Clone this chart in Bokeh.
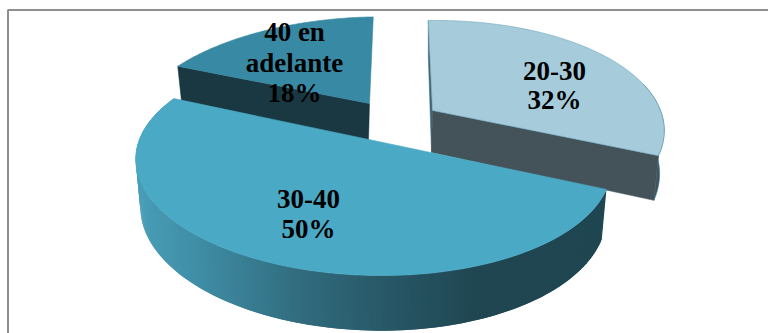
import math
from bokeh.core.properties import value
from bokeh.embed import file_html
from bokeh.models import Range1d
from bokeh.plotting import figure
from bokeh.resources import INLINE

# Age groups and their shares of the total
categories = ["20-30", "30-40", "40 en adelante"]
shares = [32, 50, 18]

# Slice appearance and placement in screen pixels
top_colors = ["#A6CBDA", "#4AA9C5", "#3889A3"]
face_colors = ["#44525A", "#1F4651", "#1A3841"]
apex_x = [432, 373, 369]
apex_y = [110, 140, 103]
radius_x = [228, 233, 230]
radius_y = [108, 108, 104]
wall_depth = [42, 47, 38]
lean_x = [-0.045, 0.0, -0.14]
lean_y = [0.0, 0.016, 0.0]
start_angle = 92.5
persp = 0.2

# Wall shading of the large slice, left to right
shade_x = [135, 200, 300, 400, 480]
shade_rgb = [(74, 158, 183), (63, 140, 165), (49, 108, 126), (38, 85, 100), (31, 70, 81)]


def top_point(i, deg):
    t = math.radians(deg)
    s = math.sin(t)
    w = 1 + persp * s
    rx = radius_x[i] * math.cos(t) / w
    ry = -radius_y[i] * s / w
    return apex_x[i] + rx + lean_x[i] * ry, apex_y[i] + ry + lean_y[i] * rx


def base_point(i, deg):
    x, y = top_point(i, deg)
    return apex_x[i] + 0.98 * (x - apex_x[i]), apex_y[i] + 1.06 * (y - apex_y[i]) + wall_depth[i]


def apex_base(i):
    return apex_x[i] - 1, apex_y[i] + wall_depth[i]


def shade(x):
    if x >= shade_x[-1]:
        r = shade_rgb[-1]
    else:
        k = 0
        while x > shade_x[k + 1]:
            k += 1
        f = max(0, (x - shade_x[k]) / (shade_x[k + 1] - shade_x[k]))
        r = tuple(round(a + (b - a) * f) for a, b in zip(shade_rgb[k], shade_rgb[k + 1]))
    return "#%02x%02x%02x" % r


def arc(a0, a1, n=90):
    return [a0 + (a1 - a0) * j / n for j in range(n + 1)]


# Sweep clockwise from the starting angle according to each share
bounds = {}
angle = start_angle
for i, v in enumerate(shares):
    bounds[i] = (angle, angle - v * 3.6)
    angle -= v * 3.6

p = figure(width=768, height=333, output_backend="svg", toolbar_location=None,
           x_range=Range1d(0, 768), y_range=Range1d(333, 0), min_border=0,
           outline_line_color=None, background_fill_color="white")
p.axis.visible = False
p.grid.visible = False

# Chart frame; its right and bottom edges fall outside the page
p.line([7.5, 7.5, 768], [333, 9.5, 9.5], line_color="#8E8E8E", line_width=2)


def radial_face(i, deg, color):
    x0, y0 = top_point(i, deg)
    x1, y1 = base_point(i, deg)
    ax, ay = apex_base(i)
    p.patch([apex_x[i], x0, x1, ax], [apex_y[i], y0, y1, ay], fill_color=color,
            line_color=color, line_width=0.5)


def top_face(i, edge):
    a0, a1 = bounds[i]
    pts = [top_point(i, d) for d in arc(a0, a1)]
    p.patch([apex_x[i]] + [q[0] for q in pts], [apex_y[i]] + [q[1] for q in pts],
            fill_color=top_colors[i], line_color=edge, line_width=0.6)


# Rear slice: 40 en adelante
radial_face(2, bounds[2][0], face_colors[2])
top_face(2, top_colors[2])

# Pulled-out slice: 20-30, with a sliver of its rim on the right
a0, a1 = bounds[0]
rim = arc(15, a1, 30)
tops = [top_point(0, d) for d in rim]
bases = [base_point(0, d) for d in rim]
p.patch([q[0] for q in tops] + [q[0] for q in reversed(bases)],
        [q[1] for q in tops] + [q[1] for q in reversed(bases)],
        fill_color=face_colors[0], line_color="#2F7F95", line_width=0.6)
radial_face(0, a0, "#3E6675")
radial_face(0, a1, face_colors[0])
top_face(0, "#6FA9BE")

# Large front slice: overlapping strips give the rim a smooth shade
a0, a1 = bounds[1]
sweep = arc(a1, a0, 240)
xs, ys, cols = [], [], []
for d0, d1 in zip(sweep[:-2], sweep[2:]):
    t0, t1 = top_point(1, d0), top_point(1, d1)
    b0, b1 = base_point(1, d0), base_point(1, d1)
    xs.append([t0[0], t1[0], b1[0], b0[0]])
    ys.append([t0[1], t1[1], b1[1], b0[1]])
    cols.append(shade((t0[0] + t1[0]) / 2))
p.patches(xs, ys, fill_color=cols, line_color=None)
top_face(1, top_colors[1])

# Data labels: category and percentage on separate lines
label_lines = [["20-30", f"{shares[0]}%"], ["30-40", f"{shares[1]}%"],
               ["40 en", "adelante", f"{shares[2]}%"]]
label_x = [554, 308, 294]
label_y = [[70, 99], [198, 228], [31, 62, 92]]
for lines, x, ys_ in zip(label_lines, label_x, label_y):
    p.text([x] * len(lines), ys_, text=lines, text_align="center", text_baseline="middle",
           text_font=value("Liberation Serif"), text_font_style="bold",
           text_font_size="27px", text_color="black")

open("out.html", "w").write(file_html(p, INLINE))
